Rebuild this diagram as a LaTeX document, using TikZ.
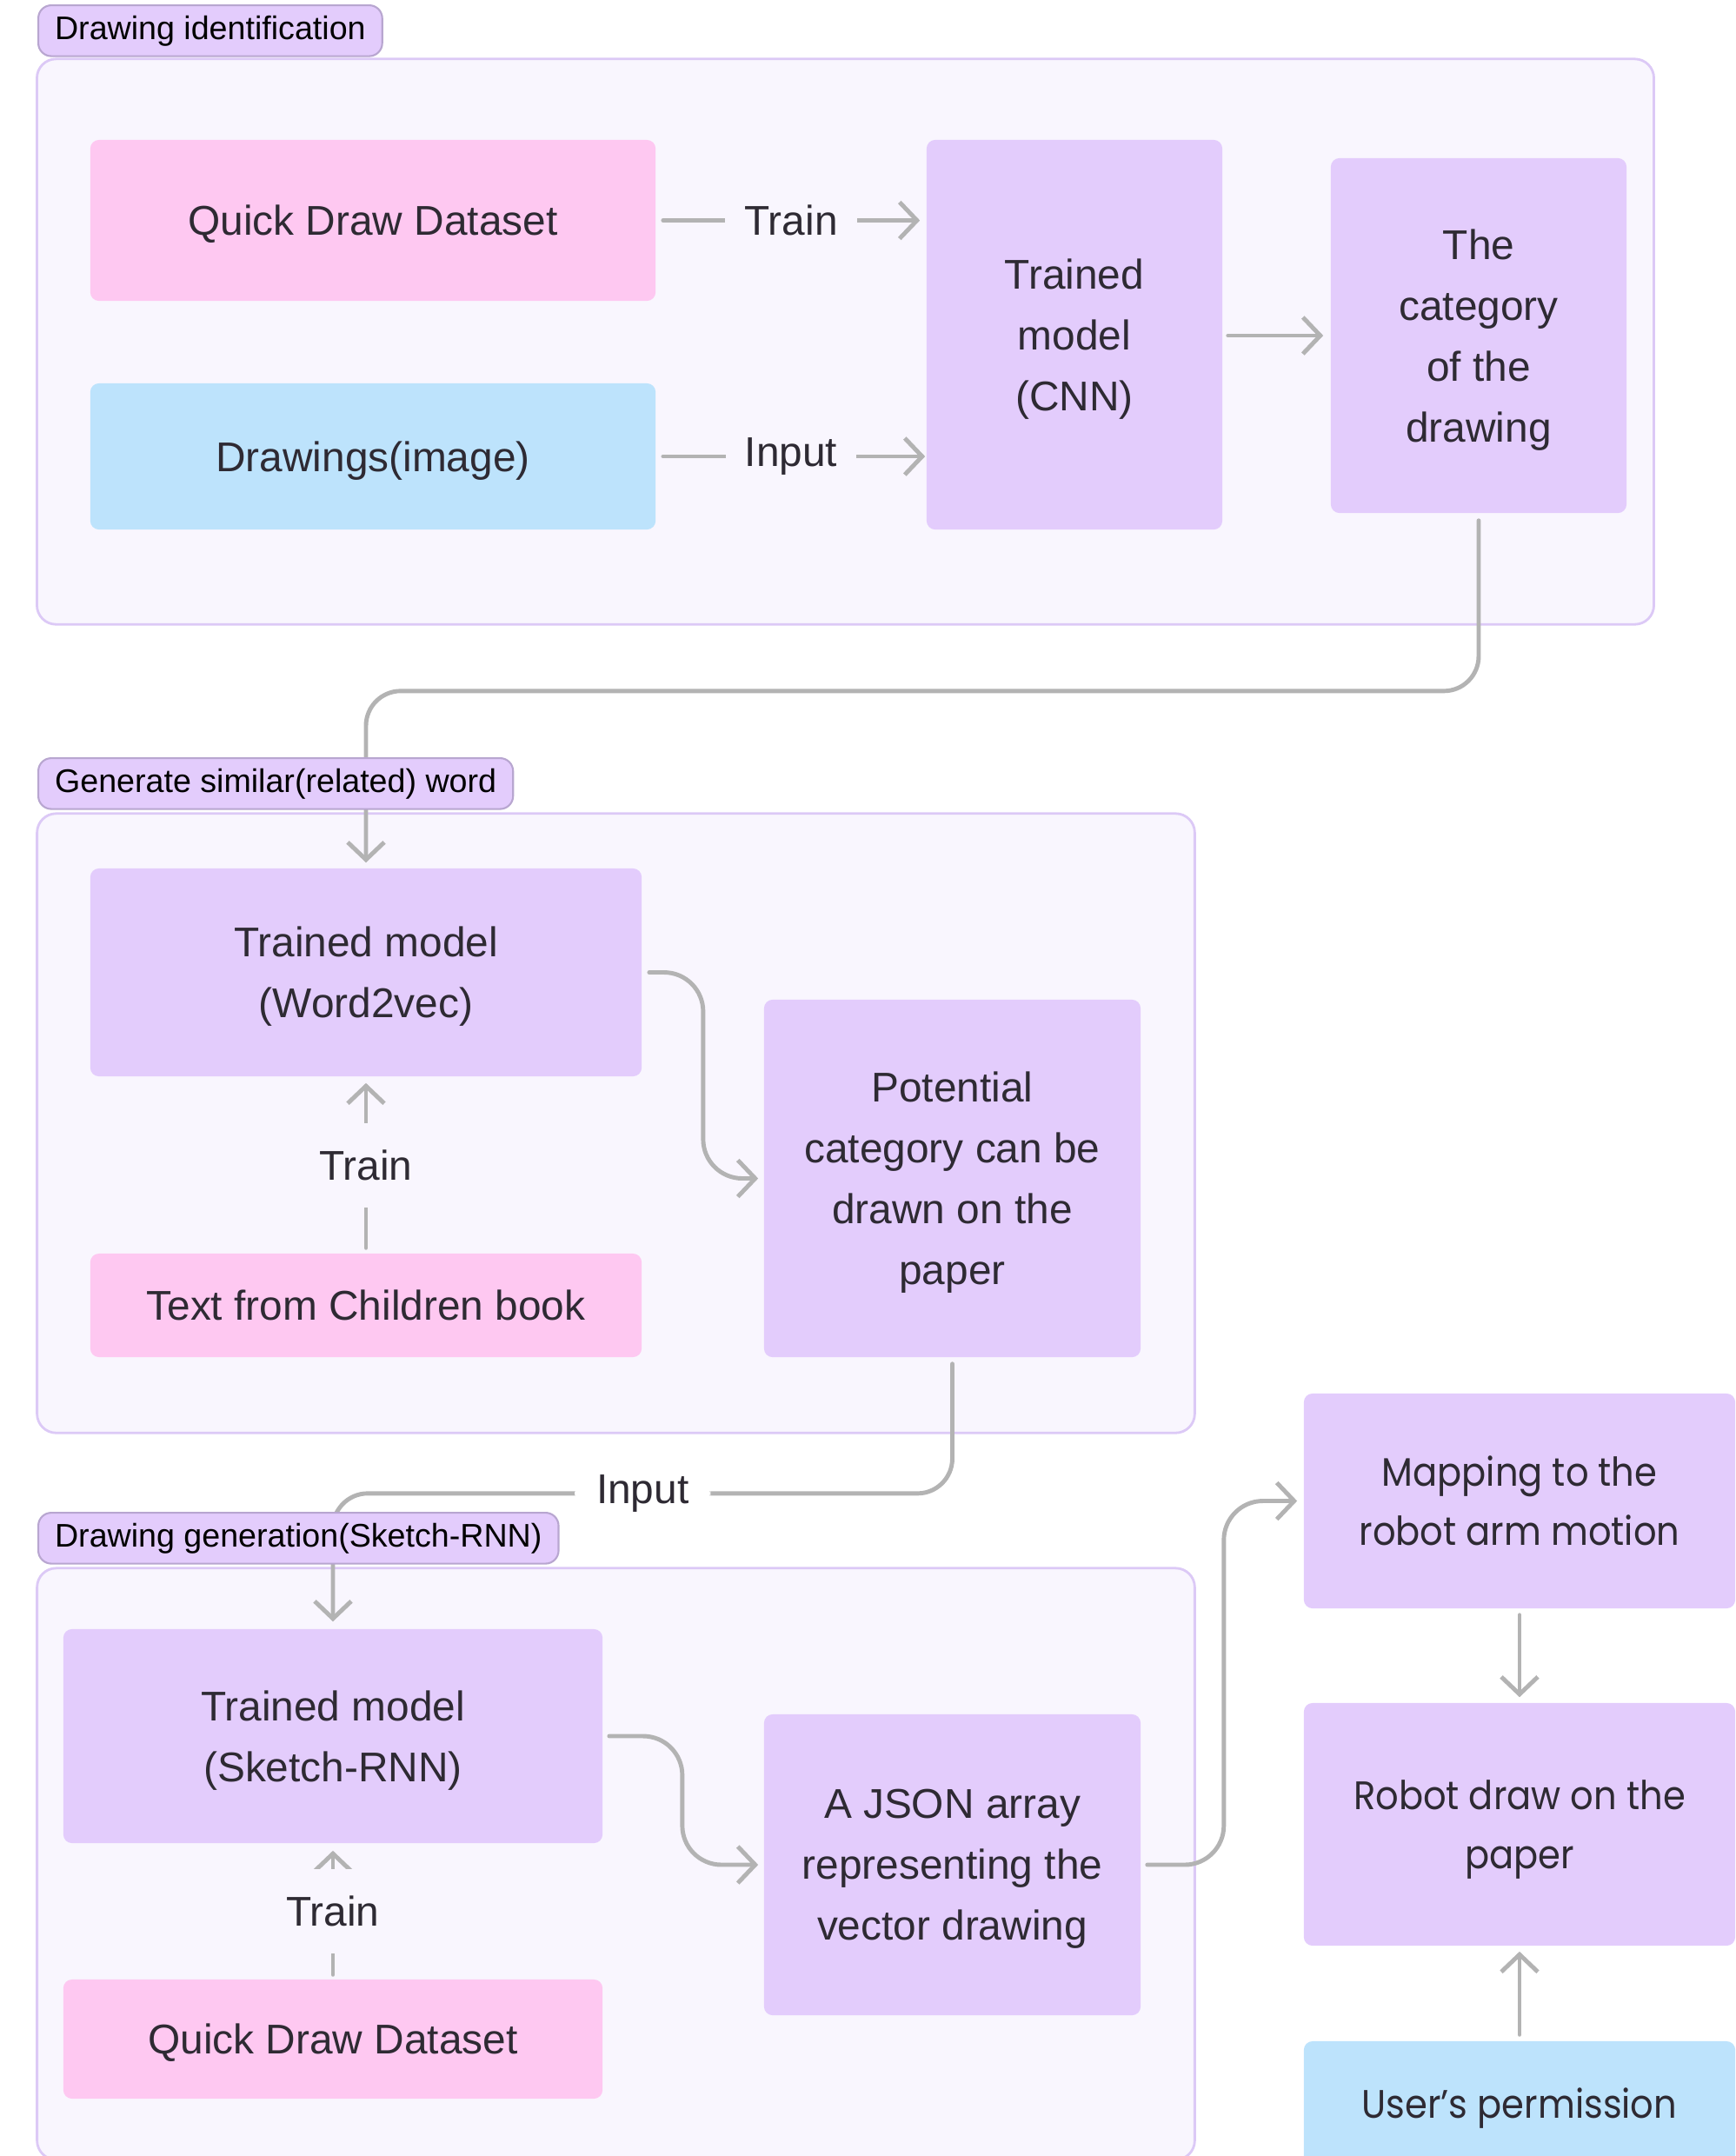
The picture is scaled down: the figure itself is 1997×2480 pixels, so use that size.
\documentclass[tikz,border=0pt]{standalone}
\usepackage{fontspec}
\setmainfont{Liberation Sans}
\newfontfamily\robotfont{Poppins}[FakeStretch=0.91]
\usepackage{xcolor}
\usepackage{tikz}
\usetikzlibrary{arrows.meta}
\definecolor{grouplilac}{HTML}{F9F6FE}
\definecolor{groupedge}{HTML}{DCC9F6}
\definecolor{boxlilac}{HTML}{E3CCFC}
\definecolor{boxpink}{HTML}{FEC8F1}
\definecolor{boxblue}{HTML}{BDE3FC}
\definecolor{tagedge}{HTML}{B8A6D0}
\definecolor{linkgray}{HTML}{B3B3B3}
\definecolor{inktext}{HTML}{2E2A33}
\tikzstyle{group} = [draw=groupedge,fill=grouplilac,line width=0.8pt,rounded corners=0.22cm,inner sep=0pt]
\tikzstyle{tag} = [draw=tagedge,fill=boxlilac,line width=0.6pt,rounded corners=0.15cm,anchor=north west,minimum height=0.5cm,inner xsep=0.19cm,text=black,font=\fontsize{10.7}{12}\selectfont]
\tikzstyle{box} = [rounded corners=0.1cm,align=center,inner sep=0pt,text depth=0pt,text=inktext,font=\fontsize{13.6}{19.9}\selectfont]
\tikzstyle{lilacbox} = [box,fill=boxlilac]
\tikzstyle{pinkbox} = [box,fill=boxpink]
\tikzstyle{bluebox} = [box,fill=boxblue]
\tikzstyle{robotbox} = [font=\robotfont\fontsize{13}{19.3}\selectfont]
\tikzstyle{arrow} = [line width=1.4pt,draw=linkgray,line cap=round,-{Straight Barb[length=0.2cm,width=0.42cm]}]
\tikzstyle{hlabel} = [fill=grouplilac,inner xsep=0.22cm,text=inktext,font=\fontsize{13.6}{15}\selectfont]
\tikzstyle{vlabel} = [fill=grouplilac,minimum height=0.97cm,inner xsep=2pt,text=inktext,font=\fontsize{13.6}{15}\selectfont]

\begin{document}
\begin{tikzpicture}[x=0.01cm,y=-0.01cm]
    \clip (0,0) rectangle (1997,2480);
    \node[group,minimum width=18.59cm,minimum height=6.50cm] (idgroup) at (972.5,393) {};
    \node[group,minimum width=13.31cm,minimum height=7.12cm] (wordgroup) at (708.5,1292) {};
    \node[group,minimum width=13.31cm,minimum height=6.80cm] (sketchgroup) at (708.5,2144) {};

    \node[pinkbox,minimum width=6.50cm,minimum height=1.85cm] (quickdraw) at (429,253.5) {Quick Draw Dataset};
    \node[bluebox,minimum width=6.50cm,minimum height=1.68cm] (drawings) at (429,525) {Drawings(image)};
    \node[lilacbox,minimum width=3.40cm,minimum height=4.48cm] (cnn) at (1236,385) {Trained\\ model\\ (CNN)};
    \node[lilacbox,minimum width=3.40cm,minimum height=4.08cm] (category) at (1701,386) {The\\ category\\ of the\\ drawing};

    \node[lilacbox,minimum width=6.34cm,minimum height=2.39cm] (word2vec) at (421,1118.5) {Trained model\\ (Word2vec)};
    \node[pinkbox,minimum width=6.34cm,minimum height=1.19cm] (booktext) at (421,1501.5) {Text from Children book};
    \node[lilacbox,minimum width=4.33cm,minimum height=4.11cm] (potential) at (1095.5,1355.5) {Potential\\ category can be\\ drawn on the\\ paper};

    \node[lilacbox,minimum width=6.20cm,minimum height=2.46cm] (sketchrnn) at (383,1997) {Trained model\\ (Sketch-RNN)};
    \node[pinkbox,minimum width=6.20cm,minimum height=1.37cm] (quickdrawb) at (383,2345.5) {Quick Draw Dataset};
    \node[lilacbox,minimum width=4.33cm,minimum height=3.46cm] (json) at (1095.5,2145) {A JSON array\\ representing the\\ vector drawing};

    \node[lilacbox,robotbox,minimum width=4.96cm,minimum height=2.47cm] (mapping) at (1748,1726.5) {Mapping to the\\ robot arm motion};
    \node[lilacbox,robotbox,minimum width=4.96cm,minimum height=2.79cm] (robotdraw) at (1748,2098.5) {Robot draw on the\\ paper};
    \node[bluebox,robotbox,minimum width=4.96cm,minimum height=1.42cm] (permission) at (1748,2419) {User’s permission};

    \draw[arrow,shorten <=0.08cm,shorten >=0.07cm] (quickdraw.east) -- (quickdraw.east -| cnn.west) node[midway,hlabel] {Train};
    \draw[arrow,shorten <=0.08cm,shorten >=0.01cm] (drawings.east) -- (drawings.east -| cnn.west) node[midway,hlabel] {Input};
    \draw[arrow,shorten <=0.06cm,shorten >=0.08cm] (cnn.east |- category.west) -- (category.west);
    \draw[arrow,rounded corners=0.4cm,shorten <=0.08cm,shorten >=0.06cm] (category.south) -- ++(0,204) -| (word2vec.north);

    \draw[arrow,shorten <=0.06cm,shorten >=0.07cm] (booktext.north) -- (word2vec.south) node[midway,vlabel] {Train};
    \draw[arrow,rounded corners=0.45cm,shorten <=0.08cm,shorten >=0.06cm] (word2vec.east) -- ++(70,0) |- (potential.west);
    \draw[arrow,rounded corners=0.4cm,shorten <=0.07cm,shorten >=0.08cm] (potential.south) -- ++(0,156) -| node[pos=0.25,hlabel,fill=white,inner xsep=0.25cm] {Input} (sketchrnn.north);

    \draw[arrow,shorten <=0.05cm,shorten >=0.08cm] (quickdrawb.north) -- (sketchrnn.south) node[midway,vlabel] {Train};
    \draw[arrow,rounded corners=0.45cm,shorten <=0.07cm,shorten >=0.06cm] (sketchrnn.east) -- ++(91,0) |- (json.west);
    \draw[arrow,rounded corners=0.45cm,shorten <=0.07cm,shorten >=0.07cm] (json.east) -- ++(95,0) |- (mapping.west);
    \draw[arrow,shorten <=0.07cm,shorten >=0.06cm] (mapping.south) -- (robotdraw.north);
    \draw[arrow,shorten <=0.07cm,shorten >=0.06cm] (permission.north) -- (robotdraw.south);

    \node[tag] (idtag) at (43,5) {Drawing identification};
    \node[tag] (wordtag) at (43,871) {Generate similar(related) word};
    \node[tag] (sketchtag) at (43,1739) {Drawing generation(Sketch-RNN)};
\end{tikzpicture}
\end{document}
